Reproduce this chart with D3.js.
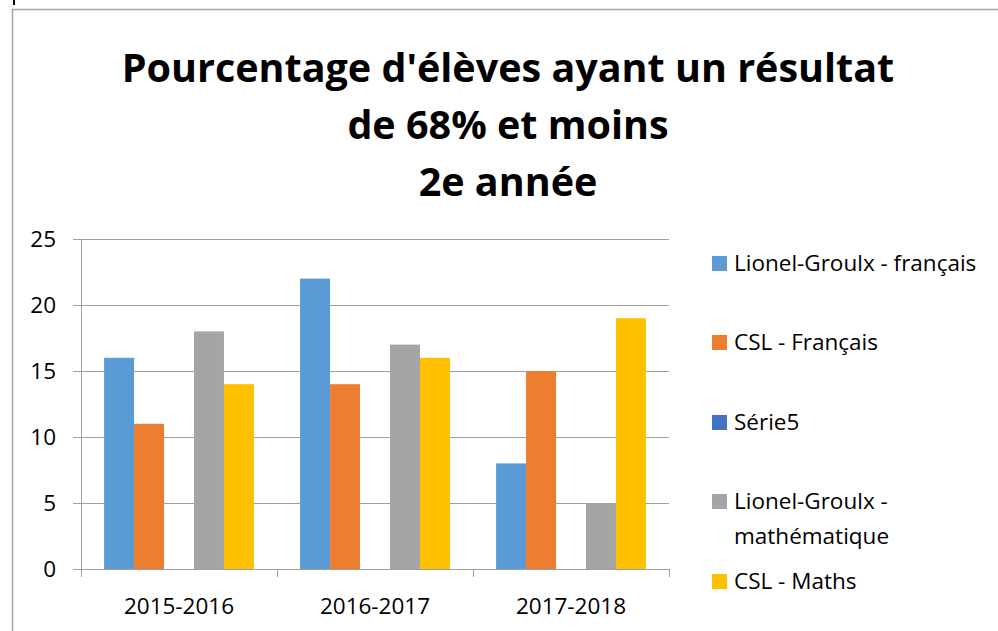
<!DOCTYPE html>
<html>
<head>
<meta charset="utf-8">
<script src="https://cdn.jsdelivr.net/npm/d3@7"></script>
<style>
  body { margin: 0; background: #fff; }
  svg { display: block; font-family: 'Open Sans', 'Liberation Sans', sans-serif; }
</style>
</head>
<body>
<div class="chart"></div>
<script>
// data
const years = ['2015-2016', '2016-2017', '2017-2018'];
const seriesNames = ['Lionel-Groulx - français', 'CSL - Français', 'Série5', 'Lionel-Groulx - mathématique', 'CSL - Maths'];
const lgFrancais = [16, 22, 8];
const cslFrancais = [11, 14, 15];
const serie5 = [null, null, null];
const lgMath = [18, 17, 5];
const cslMaths = [14, 16, 19];
const yTicks = [0, 5, 10, 15, 20, 25];
const titleLines = ["Pourcentage d'élèves ayant un résultat", 'de 68% et moins', '2e année'];

const colors = ['#5B9BD5', '#ED7D31', '#4472C4', '#A5A5A5', '#FFC000'];
const allValues = [lgFrancais, cslFrancais, serie5, lgMath, cslMaths];

const width = 998;
const height = 631;
const plot = { left: 81, right: 669, top: 239, bottom: 569 };

const svg = d3.select('.chart')
	.append('svg')
	.attr('width', width)
	.attr('height', height);

// chart frame
svg.append('rect')
	.attr('x', 12.5).attr('y', 9.5)
	.attr('width', width).attr('height', height)
	.attr('fill', 'none')
	.attr('stroke', '#a6a6a6')
	.attr('stroke-width', 1.5);

svg.append('line')
	.attr('x1', 14).attr('x2', 14).attr('y1', 0).attr('y2', 5)
	.attr('stroke', '#000').attr('stroke-width', 2);

// title
svg.append('g')
	.selectAll('text')
	.data(titleLines)
	.join('text')
	.attr('x', 508)
	.attr('y', (d, i) => 82 + i * 57)
	.attr('text-anchor', 'middle')
	.attr('font-size', 39.5)
	.attr('font-weight', 'bold')
	.attr('fill', '#000')
	.text((d) => d);

const x0 = d3.scaleBand().domain(years).range([ plot.left, plot.right ]).paddingInner(0).paddingOuter(0);
const x1 = d3.scaleBand().domain(seriesNames).range([ 0, x0.bandwidth() ]).paddingOuter(0.77).paddingInner(0);
const y = d3.scaleLinear().domain([ 0, 25 ]).range([ plot.bottom, plot.top ]);

// gridlines
svg.append('g')
	.selectAll('line')
	.data(yTicks)
	.join('line')
	.attr('x1', plot.left - 8)
	.attr('x2', plot.right)
	.attr('y1', (d) => Math.round(y(d)) + 0.5)
	.attr('y2', (d) => Math.round(y(d)) + 0.5)
	.attr('stroke', '#a0a0a0')
	.attr('stroke-width', 1);

// y axis line
svg.append('line')
	.attr('x1', plot.left + 0.5).attr('x2', plot.left + 0.5)
	.attr('y1', plot.top).attr('y2', plot.bottom + 8)
	.attr('stroke', '#a0a0a0');

// category ticks
svg.append('g')
	.selectAll('line')
	.data(years.slice(1).concat(['end']))
	.join('line')
	.attr('x1', (d, i) => Math.round(x0(years[0]) + x0.bandwidth() * (i + 1)) + 0.5)
	.attr('x2', (d, i) => Math.round(x0(years[0]) + x0.bandwidth() * (i + 1)) + 0.5)
	.attr('y1', plot.bottom)
	.attr('y2', plot.bottom + 8)
	.attr('stroke', '#a0a0a0');

// y tick labels
svg.append('g')
	.selectAll('text')
	.data(yTicks)
	.join('text')
	.attr('x', 56)
	.attr('y', (d) => y(d) + 8)
	.attr('text-anchor', 'end')
	.attr('font-size', 22.5)
	.attr('fill', '#000')
	.text((d) => d);

// x labels
svg.append('g')
	.selectAll('text')
	.data(years)
	.join('text')
	.attr('x', (d) => x0(d) + x0.bandwidth() / 2)
	.attr('y', 614)
	.attr('text-anchor', 'middle')
	.attr('font-size', 22.5)
	.attr('fill', '#000')
	.text((d) => d);

// bars
const barData = [];
seriesNames.forEach((s, si) => {
	years.forEach((yr, yi) => {
		const v = allValues[si][yi];
		if (v != null) barData.push({ series: s, year: yr, value: v, color: colors[si] });
	});
});

svg.append('g')
	.selectAll('rect')
	.data(barData)
	.join('rect')
	.attr('x', (d) => x0(d.year) + x1(d.series))
	.attr('y', (d) => y(d.value))
	.attr('width', x1.bandwidth())
	.attr('height', (d) => y(0) - y(d.value))
	.attr('fill', (d) => d.color);

// legend
const legendY = [263, 342, 422, 501, 581];
const legend = svg.append('g')
	.selectAll('g')
	.data(seriesNames)
	.join('g')
	.attr('transform', (d, i) => `translate(712,${legendY[i]})`);

legend.append('rect')
	.attr('x', 0)
	.attr('y', -7)
	.attr('width', 15)
	.attr('height', 15)
	.attr('fill', (d, i) => colors[i]);

legend.append('text')
	.attr('x', 22)
	.attr('y', 8)
	.attr('font-size', 22.5)
	.attr('fill', '#000')
	.each(function(d) {
		const t = d3.select(this);
		const parts = d === 'Lionel-Groulx - mathématique' ? ['Lionel-Groulx -', 'mathématique'] : [d];
		parts.forEach((p, k) => {
			t.append('tspan').attr('x', 22).attr('dy', k === 0 ? 0 : 35).text(p);
		});
	});
</script>
</body>
</html>
